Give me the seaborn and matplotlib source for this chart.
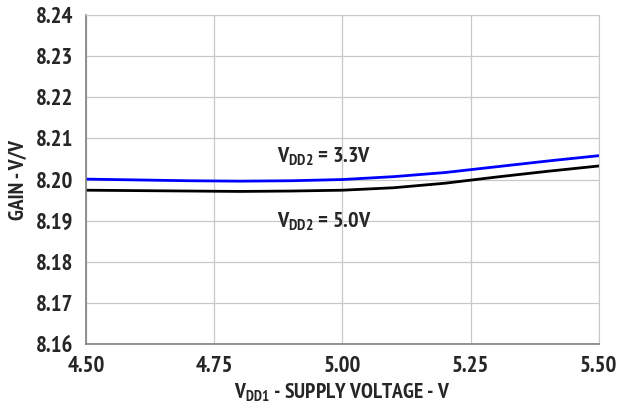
import pandas as pd
import seaborn as sns
import matplotlib.pyplot as plt

# supply voltage sweep and measured gain
vdd1 = [4.50, 4.60, 4.70, 4.80, 4.90, 5.00, 5.10, 5.20, 5.30, 5.40, 5.50]
gain_33 = [8.2001, 8.1999, 8.1997, 8.1996, 8.1997, 8.2000, 8.2007, 8.2017, 8.2031, 8.2045, 8.2058]
gain_50 = [8.1974, 8.1973, 8.1972, 8.1971, 8.1972, 8.1974, 8.1980, 8.1991, 8.2006, 8.2020, 8.2033]
xticks = [4.50, 4.75, 5.00, 5.25, 5.50]
yticks = [8.16, 8.17, 8.18, 8.19, 8.20, 8.21, 8.22, 8.23, 8.24]

fam = 'PT Sans Narrow'
sns.set_style('white')
plt.rcParams['font.family'] = [fam, 'DejaVu Sans']
plt.rcParams['font.weight'] = 'bold'
plt.rcParams['mathtext.fontset'] = 'custom'
plt.rcParams['mathtext.rm'] = fam + ':bold'
plt.rcParams['mathtext.bf'] = fam + ':bold'
plt.rcParams['mathtext.it'] = fam + ':bold'

df = pd.DataFrame({'vdd1': vdd1 * 2,
                   'gain': gain_33 + gain_50,
                   'vdd2': ['3.3'] * len(vdd1) + ['5.0'] * len(vdd1)})

fig = plt.figure(figsize=(6.34, 4.08), dpi=100)
ax = fig.add_axes([0.1356, 0.157, 0.809, 0.806])
sns.lineplot(data=df, x='vdd1', y='gain', hue='vdd2',
             palette={'3.3': '#0000ff', '5.0': '#000000'},
             linewidth=2, legend=False, ax=ax)

ax.set_xlim(4.5, 5.5)
ax.set_ylim(8.16, 8.24)
ax.set_xticks(xticks)
ax.set_yticks(yticks)
ax.set_xticklabels(['%.2f' % v for v in xticks])
ax.set_yticklabels(['%.2f' % v for v in yticks])
ax.grid(True, color='#c8c8c8', linewidth=0.9)
for s in ['top', 'right']:
    ax.spines[s].set_color('#c8c8c8')
for s in ['left', 'bottom']:
    ax.spines[s].set_color('#808080')
    ax.spines[s].set_linewidth(1.2)
ax.tick_params(axis='both', length=0, labelsize=16.5)
ax.tick_params(axis='x', pad=9)
ax.tick_params(axis='y', pad=9)

ax.set_xlabel(r'$\mathbf{V_{DD1}}$ - SUPPLY VOLTAGE - V', fontsize=15.5, fontweight='bold', labelpad=3)
ax.set_ylabel('GAIN - V/V', fontsize=15.5, fontweight='bold', labelpad=6)

ax.text(4.964, 8.2055, r'$\mathbf{V_{DD2}}$ = 3.3V', fontsize=16, fontweight='bold', ha='center', va='center')
ax.text(4.964, 8.1897, r'$\mathbf{V_{DD2}}$ = 5.0V', fontsize=16, fontweight='bold', ha='center', va='center')

fig.savefig('out.png', dpi=100)
